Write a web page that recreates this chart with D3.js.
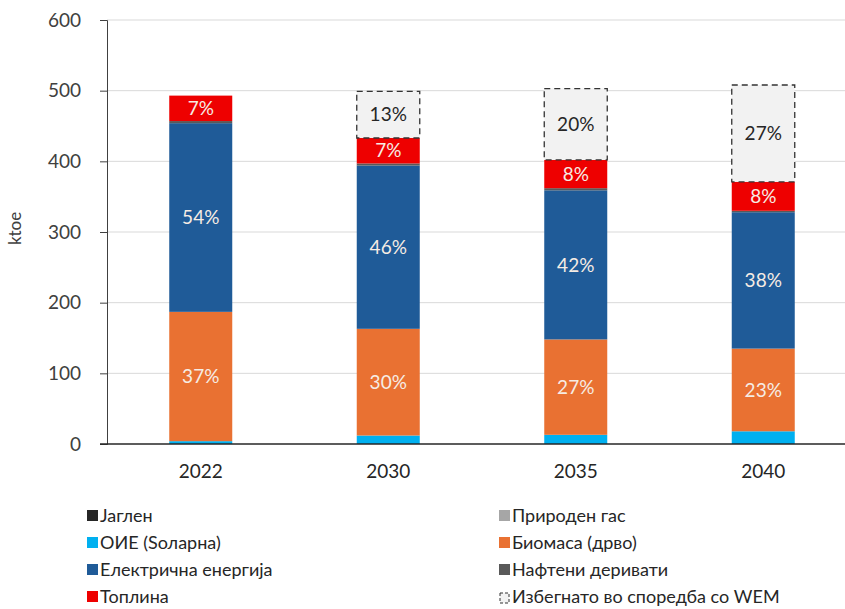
<!DOCTYPE html>
<html>
<head>
<meta charset="utf-8">
<script src="https://cdn.jsdelivr.net/npm/d3@7"></script>
<style>
  body { margin: 0; background: #fff; }
  text { font-family: Lato, "Open Sans", sans-serif; }
</style>
</head>
<body>
<svg id="chart" width="845" height="609"></svg>
<script>
// years on the x axis
var years = ["2022", "2030", "2035", "2040"];

// ktoe per source
var coal     = [0, 0, 0, 0];
var solar    = [4, 12, 13, 18];
var gas      = [0, 0, 0, 0];
var biomass  = [183, 151, 135, 117];
var electric = [267, 231, 211, 193];
var oil      = [3, 3, 3, 2];
var heat     = [36, 36, 40, 41];
var avoided  = [0, 66, 101, 137];

var yTicks = [0, 100, 200, 300, 400, 500, 600];

// stacking order, bottom to top
var series = [
  { key: "coal",     name: "Јаглен",                      values: coal,     color: "#262626" },
  { key: "solar",    name: "ОИЕ (Ѕоларна)",               values: solar,    color: "#00b0f0" },
  { key: "gas",      name: "Природен гас",                values: gas,      color: "#a6a6a6" },
  { key: "biomass",  name: "Биомаса (дрво)",              values: biomass,  color: "#e97132", label: true },
  { key: "electric", name: "Електрична енергија",         values: electric, color: "#1f5b98", label: true },
  { key: "oil",      name: "Нафтени деривати",            values: oil,      color: "#595959" },
  { key: "heat",     name: "Топлина",                     values: heat,     color: "#ee0000", label: true },
  { key: "avoided",  name: "Избегнато во споредба со WEM", values: avoided,  color: "#f2f2f2", label: true }
];

var svg = d3.select("#chart");

var x = d3.scaleBand().domain(years).range([107, 857]).paddingInner(0.664).paddingOuter(0.332);
var y = d3.scaleLinear().domain([0, 600]).range([444, 20]);

// gridlines
svg.append("g")
  .selectAll("line")
  .data(yTicks.slice(1))
  .enter().append("line")
  .attr("x1", 107).attr("x2", 845)
  .attr("y1", function(d) { return y(d); })
  .attr("y2", function(d) { return y(d); })
  .attr("stroke", "#d9d9d9")
  .attr("stroke-width", 1);

// y axis
var yAxis = svg.append("g")
  .attr("transform", "translate(107,0)")
  .call(d3.axisLeft(y).tickValues(yTicks).tickSize(7).tickPadding(19));
yAxis.select(".domain").attr("stroke", "#404040");
yAxis.selectAll(".tick line").attr("stroke", "#404040");
yAxis.selectAll("text")
  .attr("fill", "#404040")
  .style("font-size", "19px")
  .style("font-family", "Lato, sans-serif");

svg.append("text")
  .attr("transform", "translate(21," + y(305) + ") rotate(-90)")
  .attr("text-anchor", "middle")
  .attr("fill", "#404040")
  .style("font-size", "17px")
  .text("ktoe");

// stacked data
var rows = years.map(function(yr, i) {
  var r = { year: yr };
  series.forEach(function(s) { r[s.key] = s.values[i]; });
  return r;
});
var stack = d3.stack().keys(series.map(function(s) { return s.key; }));
var layers = stack(rows);

var totals = rows.map(function(r) {
  return d3.sum(series, function(s) { return r[s.key]; });
});

layers.forEach(function(layer, li) {
  var s = series[li];
  var g = svg.append("g");
  g.selectAll("rect")
    .data(layer.filter(function(d) { return d[1] - d[0] > 0; }))
    .enter().append("rect")
    .attr("x", function(d) { return x(d.data.year); })
    .attr("width", x.bandwidth())
    .attr("y", function(d) { return y(d[1]); })
    .attr("height", function(d) { return y(d[0]) - y(d[1]); })
    .attr("fill", s.color)
    .attr("stroke", s.key == "avoided" ? "#333" : "none")
    .attr("stroke-width", s.key == "avoided" ? 1.3 : 0)
    .attr("stroke-dasharray", s.key == "avoided" ? "6,4" : null);

  if (s.label) {
    g.selectAll("text")
      .data(layer.filter(function(d) { return d[1] - d[0] > 0; }))
      .enter().append("text")
      .attr("x", function(d) { return x(d.data.year) + x.bandwidth() / 2; })
      .attr("y", function(d) { return (y(d[0]) + y(d[1])) / 2; })
      .attr("dy", "0.35em")
      .attr("text-anchor", "middle")
      .attr("fill", s.key == "avoided" ? "#262626" : "#f6ece4")
      .style("font-size", "19px")
      .text(function(d) {
        var i = years.indexOf(d.data.year);
        return Math.round((d[1] - d[0]) / totals[i] * 100) + "%";
      });
  }
});

// x axis
svg.append("line")
  .attr("x1", 100).attr("x2", 845)
  .attr("y1", y(0)).attr("y2", y(0))
  .attr("stroke", "#262626").attr("stroke-width", 1.5);

svg.append("g")
  .selectAll("text")
  .data(years)
  .enter().append("text")
  .attr("x", function(d) { return x(d) + x.bandwidth() / 2; })
  .attr("y", 471)
  .attr("dy", "0.35em")
  .attr("text-anchor", "middle")
  .attr("fill", "#262626")
  .style("font-size", "19px")
  .text(function(d) { return d; });

// legend, two columns
var legendOrder = ["coal", "gas", "solar", "biomass", "electric", "oil", "heat", "avoided"];
var legend = svg.append("g");
legendOrder.forEach(function(k, i) {
  var s = series.find(function(d) { return d.key == k; });
  var col = i % 2, row = Math.floor(i / 2);
  var lx = col == 0 ? 87 : 499;
  var ly = 516 + row * 27;
  if (k == "avoided") {
    legend.append("rect")
      .attr("x", lx + 1).attr("y", ly - 4)
      .attr("width", 9).attr("height", 10)
      .attr("fill", "#f2f2f2")
      .attr("stroke", "#333").attr("stroke-width", 1)
      .attr("stroke-dasharray", "3,2");
  } else {
    legend.append("rect")
      .attr("x", lx).attr("y", ly - 6)
      .attr("width", 11).attr("height", 11)
      .attr("fill", s.color);
  }
  legend.append("text")
    .attr("x", lx + 13).attr("y", ly)
    .attr("dy", "0.35em")
    .attr("fill", "#262626")
    .style("font-size", "18px")
    .text(s.name);
});
</script>
</body>
</html>
